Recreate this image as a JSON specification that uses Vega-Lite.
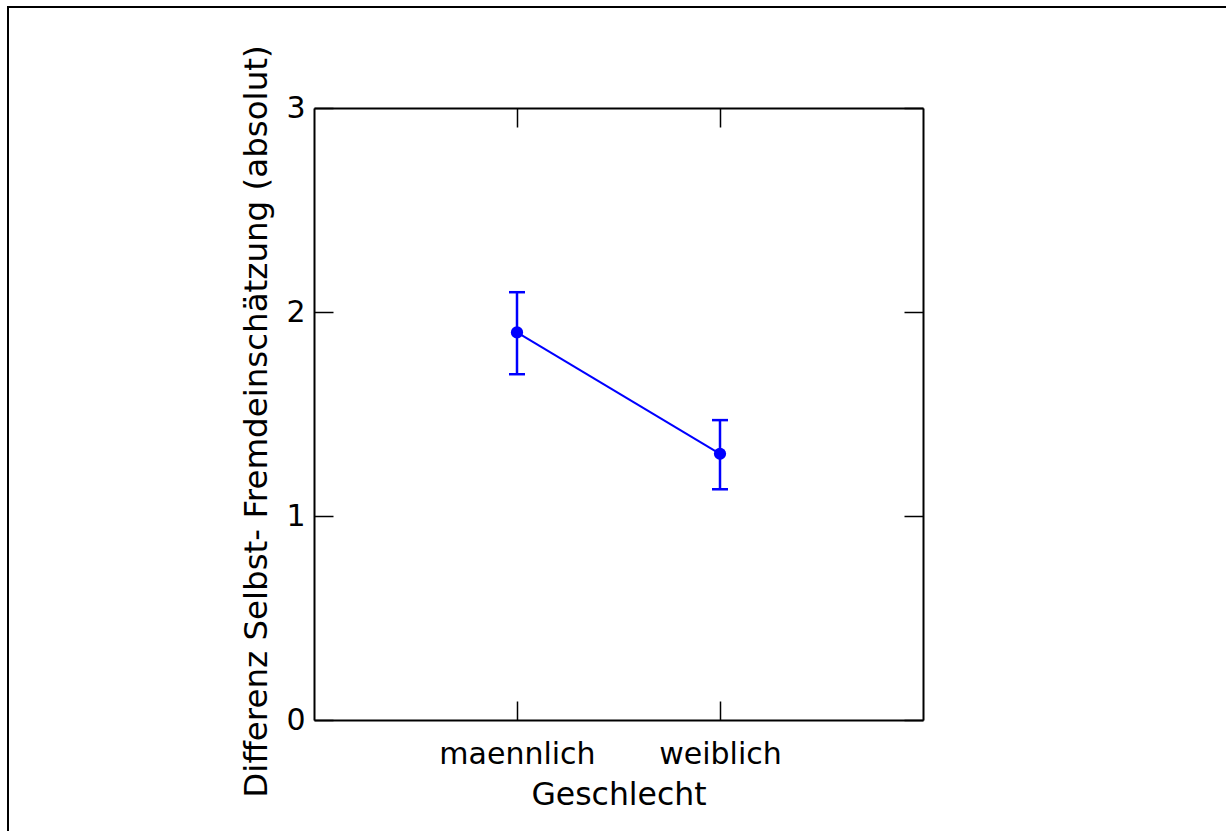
{
  "$schema": "https://vega.github.io/schema/vega-lite/v6.json",
  "width": 1222,
  "height": 828,
  "autosize": {"type": "none"},
  "padding": {"left": 8, "top": 7, "right": -4, "bottom": -4},
  "background": "white",
  "data": {
    "values": [
      {"Geschlecht": "maennlich", "mean": 1.9, "lo": 1.695, "hi": 2.097},
      {"Geschlecht": "weiblich", "mean": 1.305, "lo": 1.131, "hi": 1.47}
    ]
  },
  "layer": [
    {
      "encoding": {
        "x": {
          "field": "Geschlecht",
          "type": "nominal",
          "sort": null,
          "title": "Geschlecht",
          "scale": {"type": "point", "domain": ["maennlich", "weiblich"], "range": [306, 915], "padding": 1}
        }
      },
      "layer": [
        {
          "mark": {"type": "rule", "color": "#0000ff", "strokeWidth": 2.5},
          "encoding": {
            "y": {"field": "lo", "type": "quantitative", "title": "Differenz Selbst- Fremdeinschätzung (absolut)", "scale": {"domain": [0, 3], "range": [713, 101], "nice": false, "zero": false}},
            "y2": {"field": "hi"}
          }
        },
        {
          "mark": {"type": "tick", "color": "#0000ff", "thickness": 2.5, "size": 16, "opacity": 1},
          "encoding": {"y": {"field": "lo", "type": "quantitative", "title": "Differenz Selbst- Fremdeinschätzung (absolut)"}}
        },
        {
          "mark": {"type": "tick", "color": "#0000ff", "thickness": 2.5, "size": 16, "opacity": 1},
          "encoding": {"y": {"field": "hi", "type": "quantitative", "title": "Differenz Selbst- Fremdeinschätzung (absolut)"}}
        },
        {
          "mark": {"type": "line", "color": "#0000ff", "strokeWidth": 2},
          "encoding": {"y": {"field": "mean", "type": "quantitative", "title": "Differenz Selbst- Fremdeinschätzung (absolut)"}}
        }
      ]
    },
    {
      "mark": {"type": "point", "filled": true, "opacity": 1, "color": "#0000ff", "size": 150},
      "encoding": {
        "x": {"field": "Geschlecht", "type": "nominal", "sort": null, "title": null, "axis": {"orient": "top"}},
        "y": {"field": "mean", "type": "quantitative", "title": null, "axis": {"orient": "right"}}
      }
    }
  ],
  "resolve": {"axis": {"x": "independent", "y": "independent"}},
  "config": {
    "view": {"stroke": "#000000", "strokeWidth": 2},
    "axis": {
      "grid": false,
      "domainColor": "#000000",
      "domainWidth": 2,
      "tickColor": "#000000",
      "tickWidth": 1.5,
      "labelColor": "#000000",
      "titleColor": "#000000",
      "labelFont": "DejaVu Sans",
      "titleFont": "DejaVu Sans",
      "labelFontSize": 30,
      "titleFontWeight": "normal",
      "labelAngle": 0
    },
    "axisLeft": {"offset": -306, "tickSize": -19, "labelPadding": 28, "tickCount": 3, "titleFontSize": 32.5, "titlePadding": 12, "titleY": 414},
    "axisRight": {"offset": -307, "tickSize": -19, "labels": false, "tickCount": 3},
    "axisBottom": {"offset": -115, "tickSize": -19, "labelPadding": 38, "titleFontSize": 31.5, "titlePadding": 10},
    "axisTop": {"offset": -101, "tickSize": -19, "labels": false}
  }
}
